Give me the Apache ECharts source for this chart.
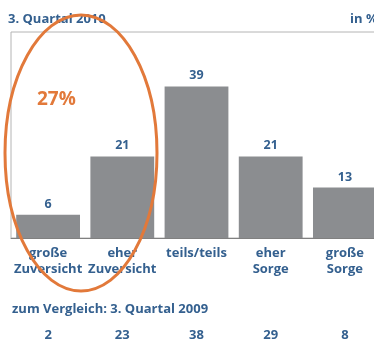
<!DOCTYPE html>
<html>
<head>
<meta charset="utf-8">
<script src="https://cdn.jsdelivr.net/npm/echarts@6/dist/echarts.min.js"></script>
<style>
  html, body { margin: 0; padding: 0; background: #fff; }
  #chart { width: 374px; height: 343px; }
</style>
</head>
<body>
<div id="chart"></div>
<script>
// Zuversicht / Sorge, 3. Quartal 2010 vs. 3. Quartal 2009 (in %)
const categories = ['große\nZuversicht', 'eher\nZuversicht', 'teils/teils', 'eher\nSorge', 'große\nSorge'];
const values2010 = [6, 21, 39, 21, 13];
const values2009 = [2, 23, 38, 29, 8];
const titleText = '3. Quartal 2010';
const unitText = 'in %';
const compareText = 'zum Vergleich: 3. Quartal 2009';
const highlightText = '27%';

const blue = '#34608f';
const orange = '#e2793a';
const font = '"Open Sans", "Liberation Sans", Arial, sans-serif';

const chart = echarts.init(document.getElementById('chart'));
chart.setOption({
  animation: false,
  backgroundColor: '#fff',
  grid: {
    left: 11, top: 32, width: 371, height: 206,
    outerBoundsMode: 'none', containLabel: false,
    show: true, borderColor: '#b4b4b4', borderWidth: 1, backgroundColor: 'transparent'
  },
  xAxis: [
    {
      type: 'category',
      data: categories,
      axisLine: { lineStyle: { color: '#808080', width: 1 } },
      axisTick: { show: false },
      axisLabel: {
        color: blue, fontFamily: font, fontWeight: 'bold', fontSize: 13,
        lineHeight: 16, margin: 7, interval: 0
      }
    },
    {
      type: 'category',
      position: 'bottom',
      offset: 83,
      data: values2009.map(String),
      axisLine: { show: false },
      axisTick: { show: false },
      axisLabel: {
        color: blue, fontFamily: font, fontWeight: 'bold', fontSize: 13,
        margin: 8, interval: 0
      }
    }
  ],
  yAxis: { type: 'value', min: 0, max: 53, show: false, splitLine: { show: false } },
  series: [{
    type: 'bar',
    xAxisIndex: 0,
    data: values2010,
    barCategoryGap: '14%',
    itemStyle: { color: '#8b8d90' },
    label: {
      show: true, position: 'top', distance: 4,
      color: blue, fontFamily: font, fontWeight: 'bold', fontSize: 12.5
    }
  }],
  graphic: [
    { type: 'text', left: 8, top: 13, style: { text: titleText, fill: blue, font: 'bold 13px ' + font } },
    { type: 'text', left: 350, top: 13, style: { text: unitText, fill: blue, font: 'bold 13px ' + font } },
    { type: 'text', left: 12, top: 303, style: { text: compareText, fill: blue, font: 'bold 13px ' + font } },
    { type: 'text', left: 37, top: 90, style: { text: highlightText, fill: orange, font: 'bold 19px ' + font } },
    {
      type: 'ellipse', shape: { cx: 81, cy: 153, rx: 76, ry: 138 },
      style: { fill: 'none', stroke: orange, lineWidth: 3 }, z: 100
    }
  ]
});
</script>
</body>
</html>
